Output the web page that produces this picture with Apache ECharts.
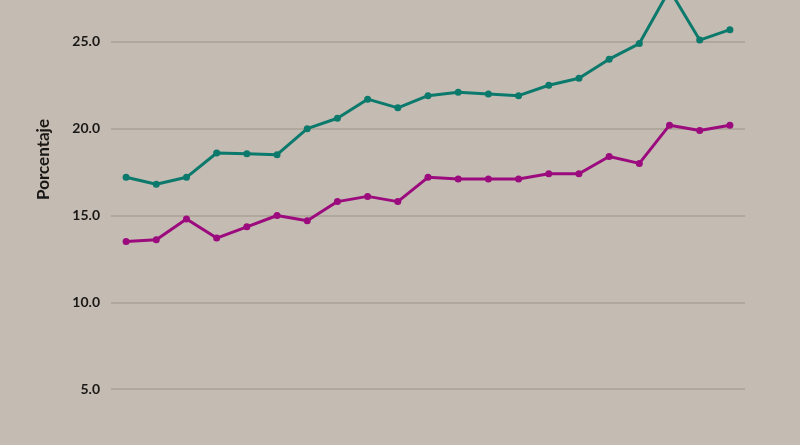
<!DOCTYPE html>
<html>
<head>
<meta charset="utf-8">
<script src="https://cdn.jsdelivr.net/npm/echarts@6/dist/echarts.min.js"></script>
<style>
  html, body { margin: 0; padding: 0; background: #c4bbb2; }
  #chart { width: 800px; height: 445px; }
</style>
</head>
<body>
<div id="chart"></div>
<script>
// 21 periodos (sin etiquetas visibles en el eje x)
const categorias = ["1", "2", "3", "4", "5", "6", "7", "8", "9", "10", "11",
  "12", "13", "14", "15", "16", "17", "18", "19", "20", "21"];
const serieVerde = [17.2, 16.8, 17.2, 18.6, 18.55, 18.5, 20.0, 20.6, 21.7, 21.2, 21.9,
  22.1, 22.0, 21.9, 22.5, 22.9, 24.0, 24.9, 28.0, 25.1, 25.7];
const serieMorada = [13.5, 13.6, 14.8, 13.7, 14.35, 15.0, 14.7, 15.8, 16.1, 15.8, 17.2,
  17.1, 17.1, 17.1, 17.4, 17.4, 18.4, 18.0, 20.2, 19.9, 20.2];
const ticksY = [0, 5, 10, 15, 20, 25, 30];

const chart = echarts.init(document.getElementById("chart"));

const fuente = "Lato";

chart.setOption({
  backgroundColor: "#c4bbb2",
  animation: false,
  grid: {
    left: 111,
    right: 55,
    top: -45,
    bottom: -31,
    containLabel: false,
    outerBoundsMode: "none"
  },
  xAxis: {
    type: "category",
    data: categorias,
    boundaryGap: true,
    axisLine: { show: false },
    axisTick: { show: false },
    axisLabel: { show: false }
  },
  yAxis: {
    type: "value",
    min: ticksY[0],
    max: ticksY[ticksY.length - 1],
    interval: 5,
    axisLine: { show: false },
    axisTick: { show: false },
    axisLabel: {
      margin: 11,
      color: "#1a1816",
      fontFamily: fuente,
      fontWeight: "bold",
      fontSize: 14,
      formatter: v => v.toFixed(1)
    },
    splitLine: {
      lineStyle: { color: "#b0a79d", width: 2 }
    }
  },
  graphic: [{
    type: "text",
    left: 35,
    top: 119,
    rotation: Math.PI / 2,
    style: {
      text: "Porcentaje",
      fill: "#1a1816",
      font: "bold 17px " + fuente
    }
  }],
  series: [
    {
      type: "line",
      data: serieVerde,
      symbol: "circle",
      symbolSize: 7,
      lineStyle: { color: "#0b7a6c", width: 3 },
      itemStyle: { color: "#0b7a6c" }
    },
    {
      type: "line",
      data: serieMorada,
      symbol: "circle",
      symbolSize: 7,
      lineStyle: { color: "#9c0b7e", width: 3 },
      itemStyle: { color: "#9c0b7e" }
    }
  ]
});
</script>
</body>
</html>
